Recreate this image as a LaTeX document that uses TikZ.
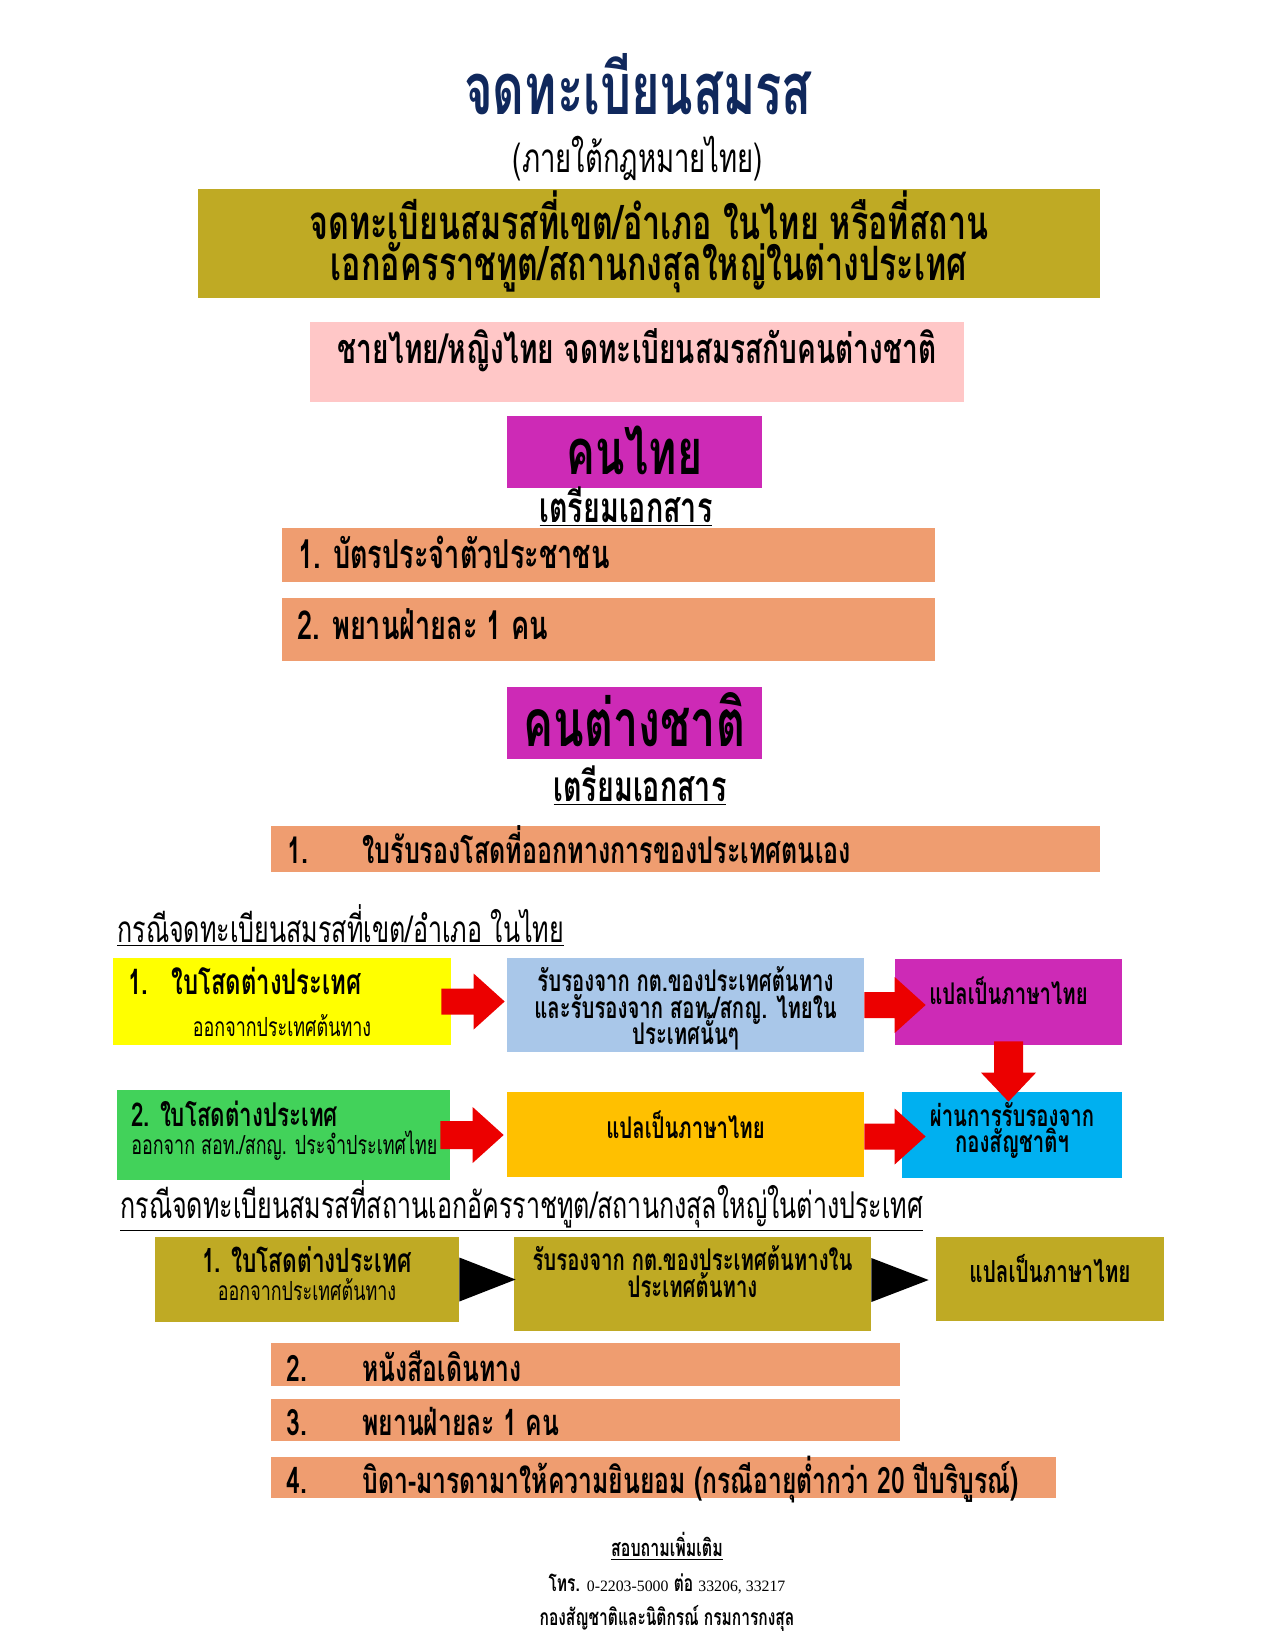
\documentclass[tikz,border=0pt]{standalone}
\usepackage{fontspec}
\usepackage{graphicx}
\setmainfont[Script=Thai, FakeStretch=0.68]{Loma}
\newfontfamily\numfont{Liberation Serif}
\usetikzlibrary{calc}
\definecolor{navy}{RGB}{16,40,92}
\definecolor{olivec}{RGB}{191,170,36}
\definecolor{pinkc}{RGB}{255,199,199}
\definecolor{magc}{RGB}{205,42,182}
\definecolor{orc}{RGB}{239,157,112}
\definecolor{yelc}{RGB}{255,255,0}
\definecolor{lbluec}{RGB}{169,199,233}
\definecolor{greenc}{RGB}{66,210,90}
\definecolor{amberc}{RGB}{255,192,0}
\definecolor{cyanc}{RGB}{0,176,240}
\definecolor{redc}{RGB}{236,0,0}
\newcommand\fs[1]{\fontsize{#1}{#1}\selectfont}
\newcommand\harr[5]{\fill[redc] ($#1+(0,-#3)$) -- ($#2+(-#5,-#3)$) -- ($#2+(-#5,-#4)$) -- #2 -- ($#2+(-#5,#4)$) -- ($#2+(-#5,#3)$) -- ($#1+(0,#3)$) -- cycle;}
\newcommand\varr[5]{\fill[redc] ($#1+(-#3,0)$) -- ($#2+(-#3,-#5)$) -- ($#2+(-#4,-#5)$) -- #2 -- ($#2+(#4,-#5)$) -- ($#2+(#3,-#5)$) -- ($#1+(#3,0)$) -- cycle;}
\begin{document}
\begin{tikzpicture}[x=0.02cm,y=-0.02cm,
  box/.style 2 args={minimum width=#1*0.02cm, minimum height=#2*0.02cm, inner sep=0pt, draw=none},
  tx/.style={inner sep=0pt, anchor=base, yshift=-0.09cm},
  lbl/.style={inner sep=0pt, anchor=base west, yshift=-0.09cm},
  itemt/.style={font=\fs{22.7}\bfseries},
  boxt/.style={tx, font=\fs{17}\bfseries},
  hd/.style={font=\fs{21}, inner sep=0pt, anchor=base west, yshift=-0.09cm},
  subt/.style={font=\fs{15}}]
\useasboundingbox[fill=white] (0,0) rectangle (1275,1650);

% title
\node[tx, font=\fs{41}\bfseries, text=navy] (title) at (638,110) {จดทะเบียนสมรส};
\node[tx, font=\fs{23}] (subtitle) at (638,168) {(ภายใต้กฎหมายไทย)};

% top boxes
\node[box={902}{109}, fill=olivec] (top) at (649,243.5) {};
\node[tx, font=\fs{27}\bfseries] (topt1) at (649,235) {จดทะเบียนสมรสที่เขต/อำเภอ ในไทย หรือที่สถาน};
\node[tx, font=\fs{27}\bfseries] (topt2) at (649,276) {เอกอัครราชทูต/สถานกงสุลใหญ่ในต่างประเทศ};
\node[box={654}{80}, fill=pinkc] (pink) at (637,362) {};
\node[tx, font=\fs{23.5}\bfseries] (pinkt) at (637,359) {ชายไทย/หญิงไทย จดทะเบียนสมรสกับคนต่างชาติ};

% Thai person
\node[box={255}{72}, fill=magc] (thai) at (634.5,452) {};
\node[tx, font=\fs{36}\bfseries] (thait) at (634.5,470) {คนไทย};
\node[tx, font=\fs{24}\bfseries] (prep1) at (626,518) {\underline{เตรียมเอกสาร}};
\node[box={653}{54}, fill=orc] (o1) at (608.5,555) {};
\node[lbl, itemt] (o1t) at (298,564) {1. บัตรประจำตัวประชาชน};
\node[box={653}{63}, fill=orc] (o2) at (608.5,629.5) {};
\node[lbl, itemt] (o2t) at (297,635) {2. พยานฝ่ายละ 1 คน};

% foreigner
\node[box={255}{72}, fill=magc] (fore) at (634.5,723) {};
\node[tx, font=\fs{37.5}\bfseries] (foret) at (634.5,742) {คนต่างชาติ};
\node[tx, font=\fs{24}\bfseries] (prep2) at (640,797) {\underline{เตรียมเอกสาร}};
\node[box={829}{46}, fill=orc] (o3) at (685.5,849) {};
\node[lbl, font=\fs{21}\bfseries] (o3n) at (287,859) {1.};
\node[lbl, font=\fs{21}\bfseries] (o3t) at (362,859) {ใบรับรองโสดที่ออกทางการของประเทศตนเอง};

% case 1
\node[hd] (h1) at (117,938) {\underline{กรณีจดทะเบียนสมรสที่เขต/อำเภอ ในไทย}};
\node[box={338}{87}, fill=yelc] (yl) at (282,1001.5) {};
\node[lbl, font=\fs{20}\bfseries] (yln) at (128,990) {1.};
\node[lbl, font=\fs{20}\bfseries] (ylt) at (171,990) {ใบโสดต่างประเทศ};
\node[tx, subt] (yls) at (282,1032) {ออกจากประเทศต้นทาง};
\node[box={357}{94}, fill=lbluec] (lb) at (685.5,1005) {};
\node[boxt] (lbt1) at (685.5,987) {รับรองจาก กต.ของประเทศต้นทาง};
\node[boxt] (lbt2) at (685.5,1014) {และรับรองจาก สอท./สกญ. ไทยใน};
\node[boxt] (lbt3) at (685.5,1040) {ประเทศนั้นๆ};
\node[box={227}{86}, fill=magc] (m3) at (1008.5,1002) {};
\node[boxt] (m3t) at (1008.5,1000) {แปลเป็นภาษาไทย};

\node[box={333}{90}, fill=greenc] (gr) at (283.5,1135) {};
\node[lbl, font=\fs{18.7}\bfseries] (grt) at (131,1122) {2. ใบโสดต่างประเทศ};
\node[lbl, subt] (grs) at (131,1150) {ออกจาก สอท./สกญ. ประจำประเทศไทย};
\node[box={357}{85}, fill=amberc] (am) at (685.5,1134.5) {};
\node[boxt] (amt) at (685.5,1134) {แปลเป็นภาษาไทย};
\node[box={220}{86}, fill=cyanc] (cy) at (1012,1135) {};
\node[boxt] (cyt1) at (1012,1122) {ผ่านการรับรองจาก};
\node[boxt] (cyt2) at (1012,1148) {กองสัญชาติฯ};

% red arrows
\coordinate (a1s) at ($(yl.east)+(-10,0)$);
\coordinate (a1e) at ($(lb.west |- a1s)+(-2,0)$);
\harr{(a1s)}{(a1e)}{13}{28}{31}
\coordinate (a2s) at ($(lb.east)+(0,0)$);
\coordinate (a2e) at ($(m3.west |- a2s)+(31,0)$);
\harr{(a2s)}{(a2e)}{13}{28}{31}
\coordinate (a3s) at ($(m3.south)+(0,-4)$);
\coordinate (a3e) at ($(cy.north -| m3.south)+(0,10)$);
\varr{(a3s)}{(a3e)}{14.5}{27.5}{29}
\coordinate (a4s) at ($(gr.east)+(-10,0)$);
\coordinate (a4e) at ($(am.west |- a4s)+(-3,0)$);
\harr{(a4s)}{(a4e)}{14}{28}{31}
\coordinate (a5s) at ($(am.east)+(0,2)$);
\coordinate (a5e) at ($(cy.west |- a5s)+(24,0)$);
\harr{(a5s)}{(a5e)}{13}{28}{31}

% case 2
\node[hd] (h2) at (120,1214) {\underline{กรณีจดทะเบียนสมรสที่สถานเอกอัครราชทูต/สถานกงสุลใหญ่ในต่างประเทศ}};
\node[box={304}{85}, fill=olivec] (ob1) at (307,1279.5) {};
\node[tx, font=\fs{19}\bfseries] (ob1t) at (307,1268) {1. ใบโสดต่างประเทศ};
\node[tx, subt] (ob1s) at (307,1296) {ออกจากประเทศต้นทาง};
\node[box={357}{94}, fill=olivec] (ob2) at (692.5,1284) {};
\node[boxt] (ob2t1) at (692.5,1266) {รับรองจาก กต.ของประเทศต้นทางใน};
\node[boxt] (ob2t2) at (692.5,1293) {ประเทศต้นทาง};
\node[box={228}{84}, fill=olivec] (ob3) at (1050,1279) {};
\node[boxt, font=\fs{17.3}\bfseries] (ob3t) at (1050,1278) {แปลเป็นภาษาไทย};
\fill[black] ($(ob1.east)+(0,-22)$) -- ($(ob2.west |- ob1.east)+(2,0)$) -- ($(ob1.east)+(0,22)$) -- cycle;
\fill[black] ($(ob2.east)+(0,-26)$) -- ($(ob3.west |- ob2.east)+(-7,-4)$) -- ($(ob2.east)+(0,18)$) -- cycle;

\node[box={629}{43}, fill=orc] (o4) at (585.5,1364.5) {};
\node[lbl, font=\fs{20.7}\bfseries] (o4n) at (286,1377) {2.};
\node[lbl, font=\fs{20.7}\bfseries] (o4t) at (362,1377) {หนังสือเดินทาง};
\node[box={629}{42}, fill=orc] (o5) at (585.5,1420) {};
\node[lbl, font=\fs{20.7}\bfseries] (o5n) at (286,1431) {3.};
\node[lbl, font=\fs{20.7}\bfseries] (o5t) at (362,1431) {พยานฝ่ายละ 1 คน};
\node[box={785}{41}, fill=orc] (o6) at (663.5,1477.5) {};
\node[lbl, font=\fs{20.7}\bfseries] (o6n) at (286,1489) {4.};
\node[lbl, font=\fs{20.7}\bfseries] (o6t) at (362,1489) {บิดา-มารดามาให้ความยินยอม (กรณีอายุต่ำกว่า 20 ปีบริบูรณ์)};

% footer
\node[tx, font=\fs{13.4}\bfseries] (f1) at (667,1552) {\underline{สอบถามเพิ่มเติม}};
\node[tx, font=\fs{13}] (f2) at (667,1587) {\textbf{โทร.} {\numfont\fs{9}0-2203-5000} \textbf{ต่อ} {\numfont\fs{9}33206, 33217}};
\node[tx, font=\fs{13}\bfseries] (f3) at (667,1621) {กองสัญชาติและนิติกรณ์ กรมการกงสุล};
\end{tikzpicture}
\end{document}
